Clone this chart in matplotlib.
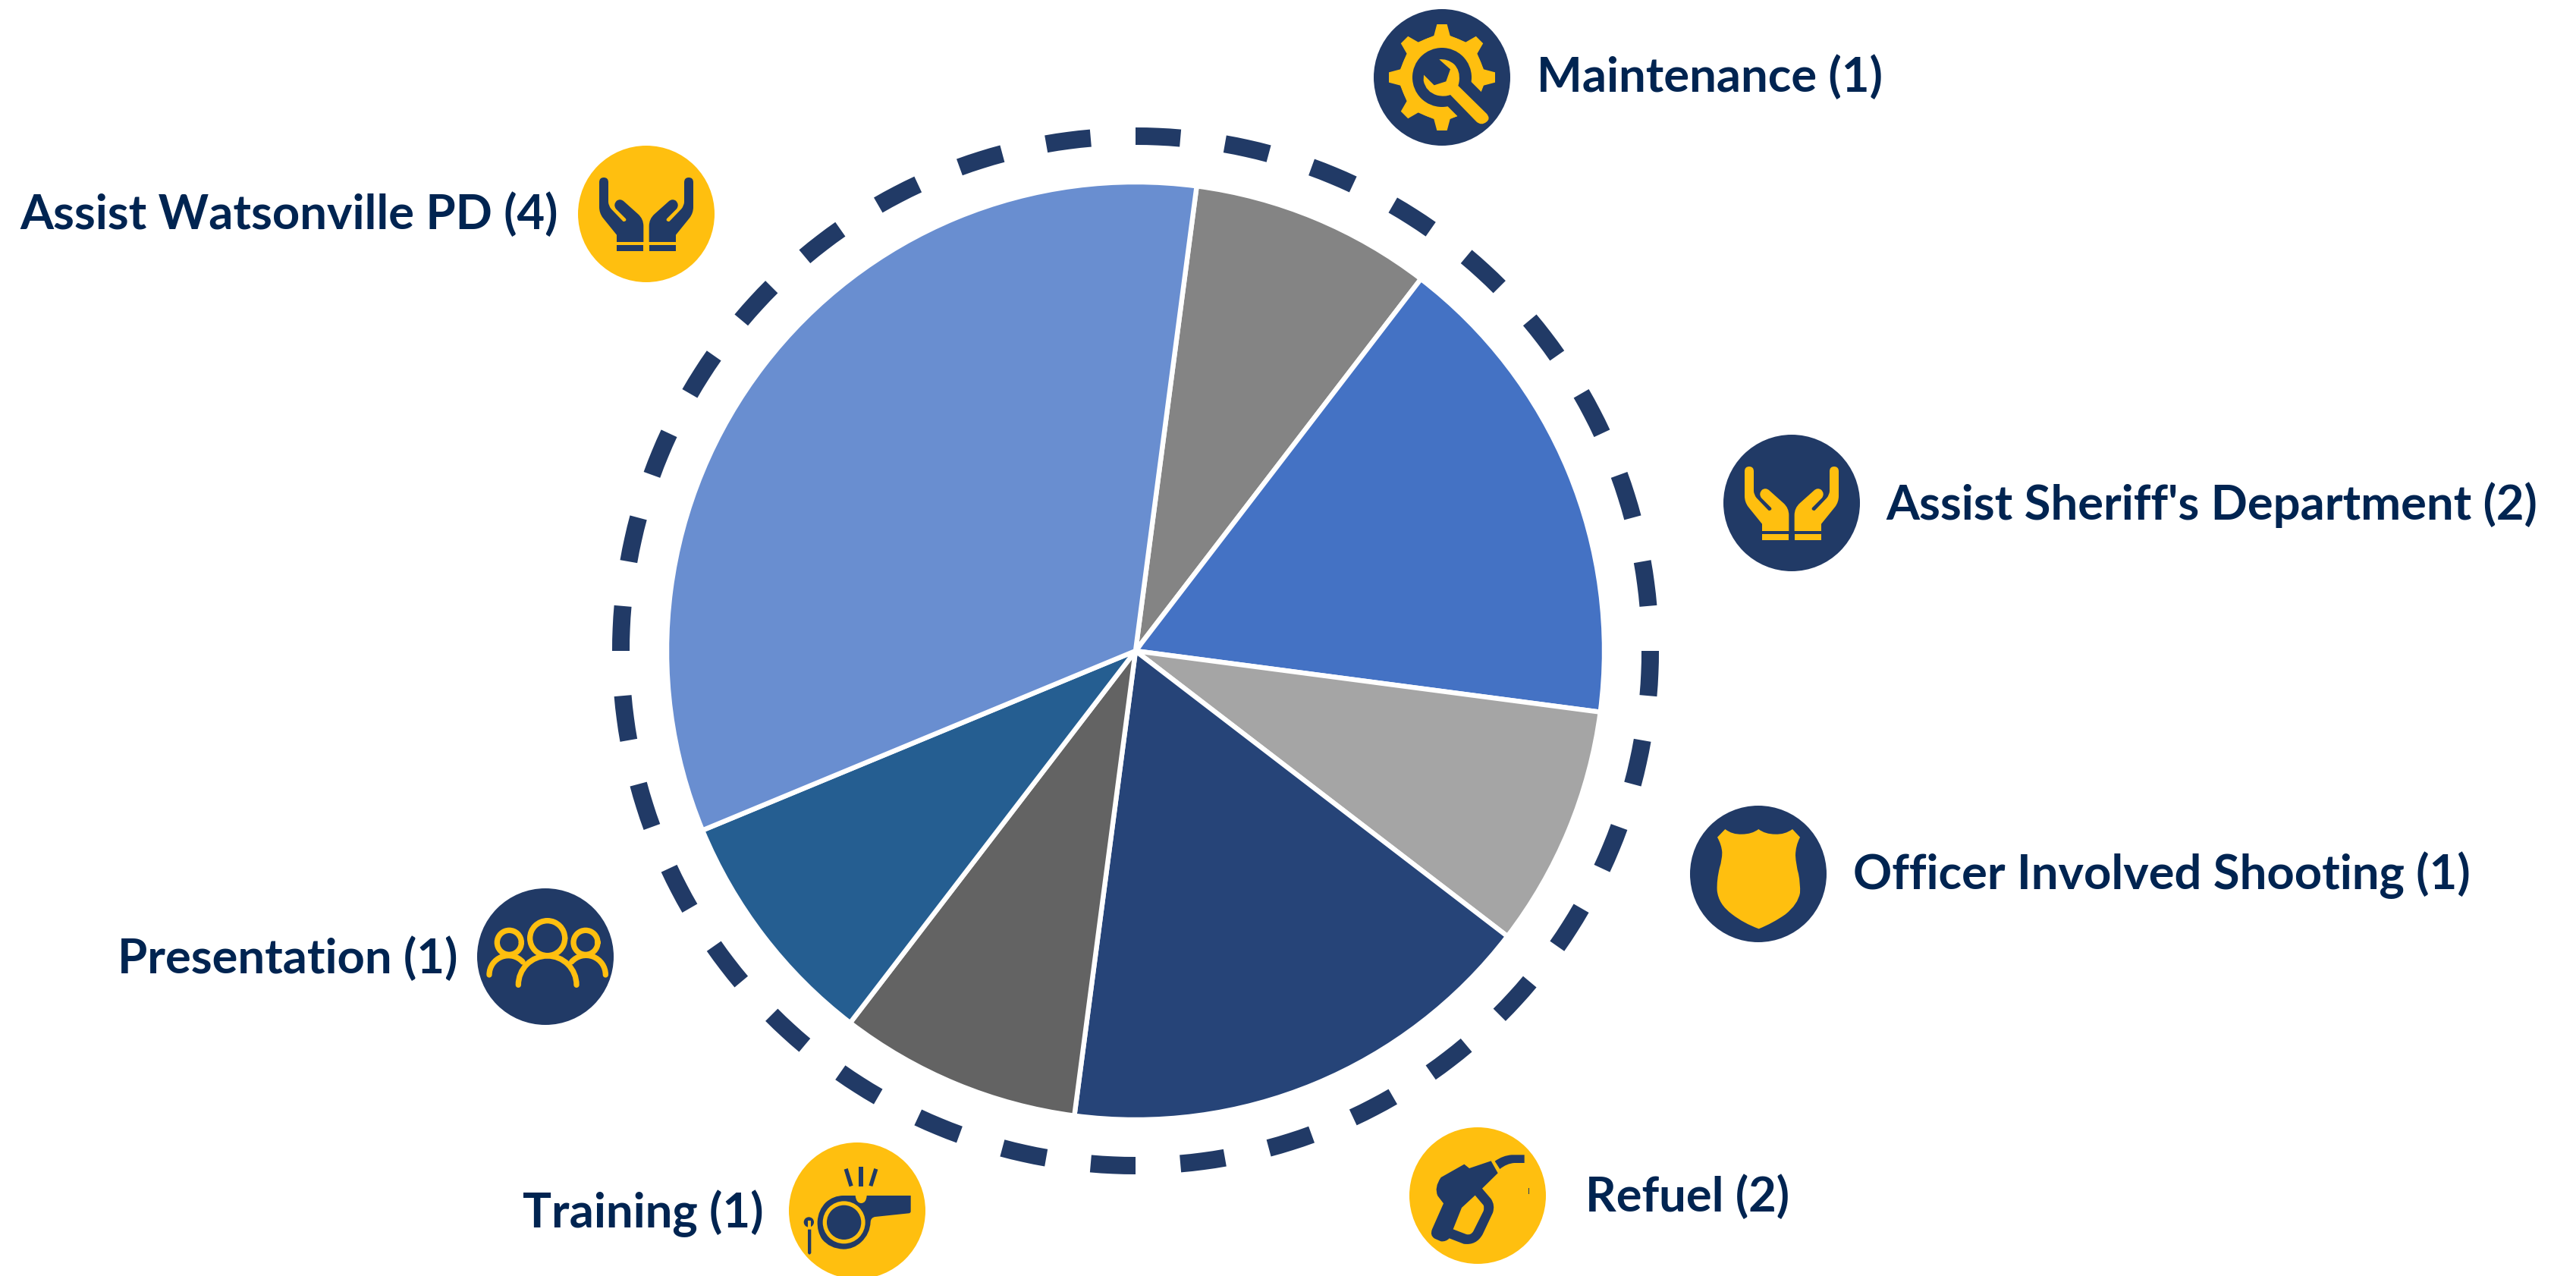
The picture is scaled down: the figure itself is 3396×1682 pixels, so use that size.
#!/usr/bin/env python3
import re
import numpy as np
import matplotlib
matplotlib.use("Agg")
import matplotlib.pyplot as plt
from matplotlib.path import Path
from matplotlib.patches import PathPatch, Circle, Wedge, Arc

W, H = 3396, 1682
NAVY = '#213A66'
YELLOW = '#FFBF0F'
TEXT = '#002451'

# pie slices, clockwise
slice_names = ['Maintenance', "Assist Sheriff's Department", 'Officer Involved Shooting',
               'Refuel', 'Training', 'Presentation', 'Assist Watsonville PD']
slice_values = [1, 2, 1, 2, 1, 1, 4]
slice_colors = ['#848484', '#4472C4', '#A5A5A5', '#264478', '#636363', '#255E91', '#698ED0']

# label anchors and icon centres, in pixels from the top left
label_x = [2026, 2486, 2443, 2090, 1007, 604, 736]
label_base = [121, 685, 1172, 1597, 1618, 1283, 302]
label_ha = ['left', 'left', 'left', 'left', 'right', 'right', 'right']
icon_x = [1901, 2362, 2318, 1948, 1130, 719, 852]
icon_y = [102, 663, 1152, 1576, 1596, 1261, 282]
icon_bg = [NAVY, NAVY, NAVY, YELLOW, YELLOW, NAVY, YELLOW]

fig = plt.figure(figsize=(W / 200, H / 200), dpi=200)
ax = fig.add_axes([0, 0, 1, 1])

CX, CY = 1497, H - 858
ax.pie(slice_values, colors=slice_colors, startangle=82.5, counterclock=False,
       center=(CX, CY), radius=618,
       wedgeprops={'edgecolor': 'white', 'linewidth': 2.3})
ax.set_xlim(0, W)
ax.set_ylim(0, H)
ax.set_aspect('equal')
ax.axis('off')

# dashed ring
for k in range(36):
    ax.add_patch(Wedge((CX, CY), 690, 90 - (k * 10 + 5), 90 - k * 10, width=23,
                       facecolor=NAVY, edgecolor='none'))


def svg(d):
    # small path reader, only M L Q Z
    verts, codes = [], []
    toks = re.findall(r'[MLQZ]|-?\d+\.?\d*', d)
    i = 0
    while i < len(toks):
        c = toks[i]
        i += 1
        if c == 'Z':
            verts.append(verts[-1])
            codes.append(Path.CLOSEPOLY)
            continue
        n = 2 if c == 'Q' else 1
        while i < len(toks) and toks[i] not in 'MLQZ':
            for j in range(n):
                verts.append((float(toks[i]), float(toks[i + 1])))
                i += 2
                if c == 'M':
                    codes.append(Path.MOVETO)
                elif c == 'L':
                    codes.append(Path.LINETO)
                else:
                    codes.append(Path.CURVE3)
    return np.array(verts), codes


def shape(d, color, pos, origin, flip=False):
    v, codes = svg(d) if isinstance(d, str) else d
    x = (v[:, 0] - origin[0]) / 3
    y = (v[:, 1] - origin[1]) / 3
    if flip:
        x = -x
    ax.add_patch(PathPatch(Path(np.c_[pos[0] + x, H - (pos[1] + y)], codes),
                           facecolor=color, edgecolor='none', zorder=4))


def dot(zx, zy, r, color, pos, origin):
    ax.add_patch(Circle((pos[0] + (zx - origin[0]) / 3, H - (pos[1] + (zy - origin[1]) / 3)),
                        r / 3, facecolor=color, edgecolor='none', zorder=4))


HAND = ('M 151 212 Q 151 193 169 193 Q 187 193 187 212 L 187 290 Q 188 305 198 317 L 245 366 '
        'Q 252 370 257 362 Q 258 358 255 355 L 217 317 Q 205 300 220 285 Q 234 275 248 287 '
        'L 305 338 Q 326 357 326 385 L 326 448 L 220 448 L 220 420 L 165 352 Q 151 333 151 310 Z')
CUFF = 'M 221 460 L 326 460 L 326 484 L 221 484 Z'


def hands(pos, color):
    for flip in (False, True):
        shape(HAND, color, pos, (337, 337), flip)
        shape(CUFF, color, pos, (337, 337), flip)


def gear(pos):
    o = (364, 307)
    pts = []
    for a in np.arange(0, 360, 45):
        t = np.radians(a)
        for r, w in ((165, 32), (210, 20), (210, -20), (165, -32)):
            dx, dy = w, -r
            pts.append((o[0] + dx * np.cos(t) - dy * np.sin(t),
                        o[1] + dx * np.sin(t) + dy * np.cos(t)))
    # each tooth runs left to right, so the flanks read the right way round
    pts = [p for i in range(0, len(pts), 4) for p in pts[i:i + 4][::-1]]
    d = 'M ' + ' L '.join(f'{x:.1f} {y:.1f}' for x, y in pts) + ' Z'
    shape(d, YELLOW, pos, o)
    dot(o[0], o[1], 165, YELLOW, pos, o)
    dot(o[0], o[1], 117, NAVY, pos, o)
    # gap around the wrench handle
    shape('M 340 375 L 495 530 L 590 435 L 440 285 Z', NAVY, pos, o)
    shape('M 353 236 Q 385 232 412 255 Q 437 280 432 322 Q 430 335 428 340 L 540 450 '
          'Q 558 470 540 483 Q 520 500 500 482 L 397 376 Q 375 385 345 378 Q 300 365 291 320 '
          'L 292 297 L 333 338 L 380 323 L 397 275 Z', YELLOW, pos, o)


def shield(pos):
    shape('M 162 158 Q 190 180 228 178 Q 268 178 294 158 Q 320 178 360 178 Q 398 180 428 158 '
          'L 458 190 Q 440 225 440 262 Q 442 300 452 335 Q 460 375 458 410 Q 450 455 400 495 '
          'Q 350 530 295 552 Q 235 530 190 495 Q 135 455 130 400 Q 128 360 140 310 '
          'Q 150 280 150 250 Q 148 220 131 190 Z', YELLOW, pos, (293, 335))


def pump(pos):
    o = (325, 317)
    shape('M 272 193 L 292 209 L 378 180 L 405 228 L 343 289 L 378 330 Q 395 355 385 385 '
          'L 345 470 Q 320 515 270 508 L 213 486 Q 200 500 180 498 L 155 487 Q 135 475 145 450 '
          'L 190 348 L 167 318 Q 152 285 180 245 Z', NAVY, pos, o)
    shape('M 315 316 L 348 355 Q 352 365 348 378 L 308 458 Q 298 475 280 470 L 228 450 '
          'L 262 365 Z', YELLOW, pos, o)
    shape('M 393 181 Q 425 158 460 156 L 510 156 L 510 188 L 470 188 Q 440 190 413 212 Z',
          NAVY, pos, o)
    shape('M 525 286 L 528 286 L 528 312 L 525 312 Z', NAVY, pos, o)


def whistle(pos):
    o = (329, 318)
    shape('M 275 258 L 322 258 Q 325 288 345 288 Q 365 288 367 258 L 541 258 L 541 320 '
          'Q 541 328 533 328 L 400 342 Q 383 345 382 362 Q 380 410 345 442 Q 315 470 275 470 '
          'Q 220 468 190 430 Q 170 400 172 360 Q 175 315 205 285 Q 235 258 275 258 Z',
          NAVY, pos, o)
    dot(277, 364, 84, YELLOW, pos, o)
    dot(277, 364, 68, NAVY, pos, o)
    shape('M 336 144 L 354 144 L 354 222 L 336 222 Z', NAVY, pos, o)
    shape('M 277 155 L 292 150 L 313 218 L 298 223 Z', NAVY, pos, o)
    shape('M 396 150 L 411 155 L 390 222 L 375 218 Z', NAVY, pos, o)
    dot(138, 363, 20, NAVY, pos, o)
    shape('M 134 358 L 146 358 L 146 388 L 134 388 Z', YELLOW, pos, o)
    shape('M 134 392 L 147 392 L 147 485 Q 140 497 134 485 Z', NAVY, pos, o)


def people(pos):
    o = (326, 303)
    lw = 22 / 3 * 72 / 200

    def ring(zx, zy, r, t1=0, t2=360, cap='round'):
        ax.add_patch(Arc((pos[0] + (zx - o[0]) / 3, H - (pos[1] + (zy - o[1]) / 3)),
                         2 * r / 3, 2 * r / 3, theta1=t1, theta2=t2, color=YELLOW,
                         linewidth=lw, capstyle=cap, zorder=4))
    ring(334, 230, 69)
    ring(183, 247, 48)
    ring(485, 247, 48)
    ring(334, 415, 115, 0, 180)
    ring(180, 375, 76, 42, 180)
    ring(487, 375, 77, 0, 138)


icon_draw = [gear, lambda p: hands(p, YELLOW), shield, pump, whistle, people,
             lambda p: hands(p, NAVY)]

for i, name in enumerate(slice_names):
    pos = (icon_x[i], icon_y[i])
    ax.add_patch(Circle((pos[0], H - pos[1]), 90, facecolor=icon_bg[i],
                        edgecolor='none', zorder=3))
    icon_draw[i](pos)
    ax.text(label_x[i], H - label_base[i], f'{name} ({slice_values[i]})', ha=label_ha[i],
            va='baseline', family='Lato', weight='bold', fontsize=22.8, color=TEXT)

fig.savefig('out.png', dpi=200, facecolor='white')
